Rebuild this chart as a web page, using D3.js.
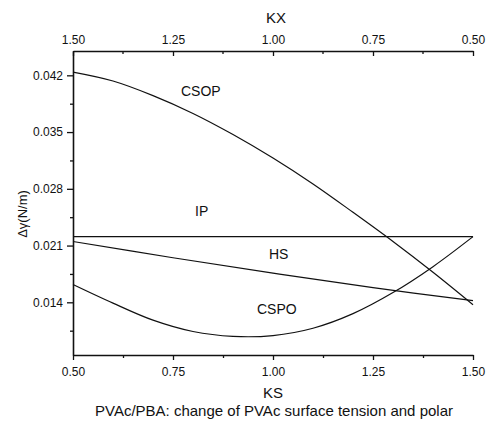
<!DOCTYPE html>
<html>
<head>
<meta charset="utf-8">
<script src="https://cdn.jsdelivr.net/npm/d3@7"></script>
<style>
  html, body { margin: 0; padding: 0; background: #fff; }
  svg { display: block; font-family: "Liberation Sans", Arial, Helvetica, sans-serif; }
</style>
</head>
<body>
<svg id="chart" width="487" height="422"></svg>
<script>
// KS values shared by the curves (bottom axis)
const ks = [0.5, 0.6, 0.7, 0.8, 0.9, 1.0, 1.1, 1.2, 1.3, 1.4, 1.5];

// Δγ (N/m) for each model
const csop = [0.0424, 0.0413, 0.0395, 0.0373, 0.0347, 0.0318, 0.0286, 0.0251, 0.0215, 0.0177, 0.0137];
const cspo = [0.0162, 0.0139, 0.0118, 0.0104, 0.0098, 0.0099, 0.0108, 0.0126, 0.0152, 0.0184, 0.0221];
const hsKs = [0.5, 0.75, 1.0, 1.25, 1.5];
const hs   = [0.0215, 0.0195, 0.0176, 0.0158, 0.0142];
const ipKs = [0.5, 1.5];
const ip   = [0.0221, 0.0221];

// Axis ticks
const ksTicks = [0.50, 0.75, 1.00, 1.25, 1.50];
const ksMinor = [0.625, 0.875, 1.125, 1.375];
const kxTicks = [1.50, 1.25, 1.00, 0.75, 0.50];
const kxMinor = [1.375, 1.125, 0.875, 0.625];
const yTicks = [0.014, 0.021, 0.028, 0.035, 0.042];
const yMinor = [0.0105, 0.0175, 0.0245, 0.0315, 0.0385];

const seriesLabels = [
  { name: "CSOP", ks: 0.77, v: 0.0395 },
  { name: "IP",   ks: 0.805, v: 0.0246 },
  { name: "HS",   ks: 0.99, v: 0.0193 },
  { name: "CSPO", ks: 0.96, v: 0.0126 }
];

const svg = d3.select("#chart");
const plot = { left: 73, right: 473, top: 51, bottom: 355 };

const x = d3.scaleLinear().domain([0.5, 1.5]).range([plot.left, plot.right]);
const xTop = d3.scaleLinear().domain([1.5, 0.5]).range([plot.left, plot.right]);
const y = d3.scaleLinear().domain([0.0075, 0.045]).range([plot.bottom, plot.top]);

const fmt2 = d3.format(".2f");
const fmt3 = d3.format(".3f");

function styleAxis(g) {
  g.select(".domain").attr("stroke", "#111").attr("stroke-width", 1.6);
  g.selectAll(".tick line").attr("stroke", "#111").attr("stroke-width", 1.3);
  g.selectAll(".tick text").attr("fill", "#111").style("font-size", "12px")
    .style("font-family", "'Liberation Sans', Arial, sans-serif");
}

// Bottom axis (KS)
const gx = svg.append("g").attr("transform", `translate(0,${plot.bottom})`)
  .call(d3.axisBottom(x).tickValues(ksTicks).tickFormat(fmt2).tickSize(5).tickSizeOuter(0).tickPadding(7));
styleAxis(gx);
svg.append("g").attr("transform", `translate(0,${plot.bottom})`)
  .call(d3.axisBottom(x).tickValues(ksMinor).tickFormat("").tickSize(3).tickSizeOuter(0))
  .call(g => g.select(".domain").remove())
  .call(g => g.selectAll("line").attr("stroke", "#111").attr("stroke-width", 1.3));

// Top axis (KX), ticks pointing inward
const gt = svg.append("g").attr("transform", `translate(0,${plot.top})`)
  .call(d3.axisTop(xTop).tickValues(kxTicks).tickFormat(fmt2).tickSizeInner(0).tickSizeOuter(0).tickPadding(7));
styleAxis(gt);
gt.selectAll(".tick").append("line").attr("y1", 0).attr("y2", 5).attr("stroke", "#111").attr("stroke-width", 1.3);
svg.append("g").selectAll("line").data(kxMinor).join("line")
  .attr("x1", d => xTop(d)).attr("x2", d => xTop(d))
  .attr("y1", plot.top).attr("y2", plot.top + 3)
  .attr("stroke", "#111").attr("stroke-width", 1.3);

// Left axis (Δγ)
const gy = svg.append("g").attr("transform", `translate(${plot.left},0)`)
  .call(d3.axisLeft(y).tickValues(yTicks).tickFormat(fmt3).tickSize(6).tickSizeOuter(0).tickPadding(4));
styleAxis(gy);
svg.append("g").attr("transform", `translate(${plot.left},0)`)
  .call(d3.axisLeft(y).tickValues(yMinor).tickFormat("").tickSize(3).tickSizeOuter(0))
  .call(g => g.select(".domain").remove())
  .call(g => g.selectAll("line").attr("stroke", "#111").attr("stroke-width", 1.3));

// Curves
const line = d3.line().x(d => x(d[0])).y(d => y(d[1])).curve(d3.curveCatmullRom.alpha(0.5));
const curves = [
  d3.zip(ks, csop),
  d3.zip(ks, cspo),
  d3.zip(hsKs, hs),
  d3.zip(ipKs, ip)
];
svg.append("g").selectAll("path").data(curves).join("path")
  .attr("d", line)
  .attr("fill", "none")
  .attr("stroke", "#111")
  .attr("stroke-width", 1.2);

// Curve names
svg.append("g").selectAll("text").data(seriesLabels).join("text")
  .attr("x", d => x(d.ks))
  .attr("y", d => y(d.v))
  .attr("fill", "#111")
  .style("font-size", "14px")
  .text(d => d.name);

// Axis titles
svg.append("text").attr("x", 276).attr("y", 23).attr("text-anchor", "middle")
  .attr("fill", "#111").style("font-size", "15px").text("KX");
svg.append("text").attr("x", 273).attr("y", 398).attr("text-anchor", "middle")
  .attr("fill", "#111").style("font-size", "15px").text("KS");
svg.append("text").attr("transform", "translate(27,214) rotate(-90)").attr("text-anchor", "middle")
  .attr("fill", "#111").style("font-size", "13px").text("Δγ(N/m)");

// Caption
svg.append("text").attr("x", 95).attr("y", 416)
  .attr("fill", "#111").style("font-size", "15px")
  .text("PVAc/PBA: change of PVAc surface tension and polar");
</script>
</body>
</html>
